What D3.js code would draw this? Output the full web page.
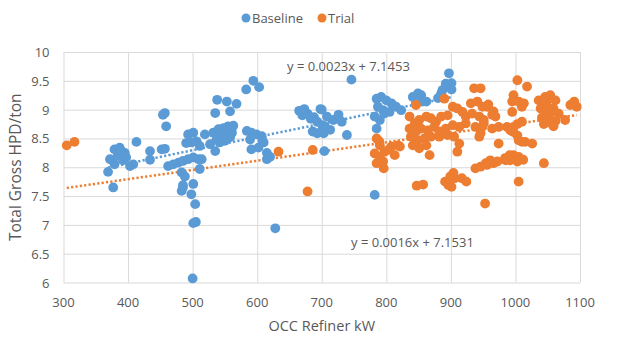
<!DOCTYPE html>
<html>
<head>
<meta charset="utf-8">
<script src="https://cdn.jsdelivr.net/npm/d3@7"></script>
<style>
  body { margin: 0; background: #fff; }
  text { font-family: "Open Sans", "Liberation Sans", sans-serif; fill: #595959; }
  .grid line { stroke: #d9d9d9; stroke-width: 1; }
  .grid path { display: none; }
  .tick-label { font-size: 13px; }
  .x-title { font-size: 14.5px; }
  .y-title { font-size: 15.5px; }
  .eq { font-size: 13px; }
  .legend text { font-size: 13px; }
</style>
</head>
<body>
<div id="chart"></div>
<script>
// OCC refiner load (kW) vs total gross HPD/ton
var baseline = [
  [372,8.14],[379,8.31],[387,8.34],[395,8.25],[384,8.20],[397,8.17],[379,8.05],[403,8.02],[408,8.05],
  [369,7.92],[377,7.65],[413,8.44],[390,8.28],[392,8.12],
  [434,8.28],[434,8.13],[454,8.91],[457,8.94],[459,8.71],[452,8.31],[457,8.32],
  [462,8.02],[470,8.05],[478,8.08],[485,8.11],[493,8.14],[501,8.17],[509,8.14],
  [493,8.57],[501,8.60],[498,8.43],[506,8.45],[511,8.37],
  [483,7.91],[485,7.65],[483,7.59],[501,7.71],[498,7.53],[504,7.36],[488,7.84],[485,7.69],
  [511,7.97],[514,8.14],[501,7.03],[505,7.05],[500,6.07],[490,8.42],
  [519,8.57],[527,8.40],[535,8.28],[532,8.60],[540,8.66],[548,8.68],[555,8.71],[563,8.72],[537,8.48],
  [545,8.54],[553,8.57],[561,8.60],[542,8.43],[550,8.46],[558,8.52],[546,8.62],
  [535,8.94],[538,9.17],[553,9.14],[568,9.10],[558,8.97],[583,9.35],[594,9.50],[603,9.39],
  [584,8.63],[591,8.60],[599,8.57],[607,8.54],[589,8.48],[610,8.43],[591,8.31],[602,8.34],[615,8.25],
  [615,8.14],[608,8.47],[620,8.18],[628,6.94],
  [665,8.98],[673,9.01],[670,8.90],[678,8.93],[683,8.84],[688,8.87],[693,8.79],[698,9.01],[701,8.73],
  [686,8.62],[693,8.59],[701,8.65],[704,8.28],
  [700,9.00],[708,8.88],[718,8.82],[726,8.91],[731,8.79],[705,8.71],[713,8.65],[703,8.59],[739,8.56],
  [746,9.52],
  [785,9.19],[792,9.22],[800,9.16],[808,9.11],[815,9.05],[823,8.99],[787,9.05],[795,8.99],[782,8.88],
  [790,8.82],[785,8.67],[797,8.93],[805,8.96],[782,7.52],
  [841,9.22],[849,9.28],[854,9.25],[846,9.11],[856,9.14],[862,9.14],[880,9.20],[885,9.28],[887,9.34],
  [892,9.45],[897,9.63],[901,9.46],[901,9.35]
];

var trial = [
  [305,8.38],[317,8.44],[633,8.27],[686,8.30],[678,7.58],
  [785,8.50],[790,8.38],[782,8.24],[790,8.18],[797,8.27],[808,8.36],[818,8.38],[813,8.21],[795,8.10],
  [785,8.07],[796,7.98],[789,8.45],[803,8.30],[821,8.36],
  [846,9.08],[890,9.19],
  [836,8.88],[844,8.76],[851,8.82],[862,8.88],[869,8.85],[877,8.79],[885,8.88],[895,8.90],[903,9.05],
  [910,9.02],[918,8.96],[923,8.88],[836,8.67],[846,8.62],[854,8.67],[864,8.64],[874,8.70],[882,8.62],
  [892,8.67],[903,8.73],[913,8.70],[923,8.76],[838,8.53],[849,8.47],[859,8.50],[869,8.53],[882,8.53],
  [895,8.56],[905,8.53],[913,8.41],[841,8.38],[851,8.33],[862,8.38],[867,8.21],[910,8.27],
  [847,7.68],[857,7.70],[891,7.75],[899,7.84],[904,7.90],[896,7.69],[906,7.81],[917,7.81],[924,7.75],
  [901,7.66],
  [936,9.37],[946,9.37],[931,9.11],[941,9.14],[949,9.05],[933,8.93],[944,8.88],[951,8.76],[938,8.70],
  [946,8.59],[956,9.05],[964,8.91],[951,8.82],[948,8.70],[964,8.67],[974,8.70],[974,8.41],[966,8.97],
  [969,8.88],[958,9.09],[944,8.53],
  [938,7.98],[946,8.01],[956,8.04],[961,8.12],[972,8.10],[985,8.12],[954,8.07],[966,8.07],[953,7.37],
  [1003,9.51],[1018,9.40],[997,9.25],[995,9.14],[1005,9.14],[1013,9.11],[1010,9.05],[995,8.96],[987,8.70],
  [992,8.64],[997,8.70],[1003,8.75],[1010,8.79],[997,8.61],[1003,8.55],[1005,8.47],[1010,8.44],[1015,8.44],
  [1026,8.41],[997,8.21],[1005,8.18],[992,8.12],[1003,8.10],[984,8.16],[991,8.21],[1012,8.13],[1005,7.75],
  [1044,8.07],
  [1036,9.16],[1046,9.22],[1054,9.25],[1062,9.16],[1039,9.02],[1049,9.05],[1059,9.02],[1067,8.93],[1041,8.86],
  [1052,8.86],[1062,8.80],[1044,8.75],[1057,8.75],[1077,8.82],[1085,9.08],[1095,9.05],[1059,8.71],[1091,9.14],
  [1048,9.12],[1055,8.95],[1045,8.95]
];

// linear trendlines: [slope, intercept]
var baselineFit = [0.0023, 7.1453];
var trialFit = [0.0016, 7.1531];

var xTicks = [300, 400, 500, 600, 700, 800, 900, 1000, 1100];
var yTicks = [6, 6.5, 7, 7.5, 8, 8.5, 9, 9.5, 10];

var colours = { Baseline: "#5b9bd5", Trial: "#ed7d31" };

var width = 617, height = 340;
var svg = d3.select("#chart").append("svg")
    .attr("width", width)
    .attr("height", height);

var x = d3.scaleLinear().domain([300, 1100]).range([63.5, 580]);
var y = d3.scaleLinear().domain([6, 10]).range([282.5, 52]);

// gridlines
svg.append("g")
    .attr("class", "grid")
    .attr("transform", "translate(0," + y(10) + ")")
    .call(d3.axisBottom(x).tickValues(xTicks).tickSize(y(6) - y(10)).tickFormat(""));
svg.append("g")
    .attr("class", "grid")
    .attr("transform", "translate(" + x(300) + ",0)")
    .call(d3.axisRight(y).tickValues(yTicks).tickSize(x(1100) - x(300)).tickFormat(""));

// tick labels
svg.append("g").selectAll("text")
    .data(xTicks)
    .enter().append("text")
    .attr("class", "tick-label")
    .attr("x", function(d) { return x(d); })
    .attr("y", y(6) + 24)
    .attr("text-anchor", "middle")
    .text(function(d) { return d; });
svg.append("g").selectAll("text")
    .data(yTicks)
    .enter().append("text")
    .attr("class", "tick-label")
    .attr("x", x(300) - 14)
    .attr("y", function(d) { return y(d) + 5; })
    .attr("text-anchor", "end")
    .text(function(d) { return d; });

// axis titles
svg.append("text")
    .attr("class", "x-title")
    .attr("x", (x(300) + x(1100)) / 2)
    .attr("y", 331)
    .attr("text-anchor", "middle")
    .text("OCC Refiner kW");
svg.append("text")
    .attr("class", "y-title")
    .attr("text-anchor", "middle")
    .attr("transform", "translate(21," + (y(6) + y(10)) / 2 + ") rotate(-90)")
    .text("Total Gross HPD/ton");

// trendlines (under the markers)
function trend(points, fit, colour) {
    var ext = d3.extent(points, function(d) { return d[0]; });
    svg.append("line")
        .attr("x1", x(ext[0])).attr("y1", y(fit[0] * ext[0] + fit[1]))
        .attr("x2", x(ext[1])).attr("y2", y(fit[0] * ext[1] + fit[1]))
        .style("stroke", colour)
        .style("stroke-width", 2.5)
        .style("stroke-dasharray", "2.2,2.2");
}
trend(baseline, baselineFit, colours.Baseline);
trend(trial, trialFit, colours.Trial);

// markers
function dots(points, colour) {
    svg.append("g").selectAll("circle")
        .data(points)
        .enter().append("circle")
        .attr("cx", function(d) { return x(d[0]); })
        .attr("cy", function(d) { return y(d[1]); })
        .attr("r", 4.9)
        .style("fill", colour);
}
dots(baseline, colours.Baseline);
dots(trial, colours.Trial);

// trendline equations
function eqText(fit) {
    return "y = " + fit[0].toFixed(4) + "x + " + fit[1].toFixed(4);
}
svg.append("text").attr("class", "eq")
    .attr("x", 287).attr("y", 71)
    .text(eqText(baselineFit));
svg.append("text").attr("class", "eq")
    .attr("x", 351).attr("y", 247)
    .text(eqText(trialFit));

// legend
var legend = svg.append("g").attr("class", "legend");
var legendItems = [
    { name: "Baseline", cx: 246, tx: 252 },
    { name: "Trial", cx: 322, tx: 328 }
];
legendItems.forEach(function(item) {
    legend.append("circle")
        .attr("cx", item.cx).attr("cy", 18)
        .attr("r", 4.5)
        .style("fill", colours[item.name]);
    legend.append("text")
        .attr("x", item.tx).attr("y", 22.5)
        .text(item.name);
});
</script>
</body>
</html>
